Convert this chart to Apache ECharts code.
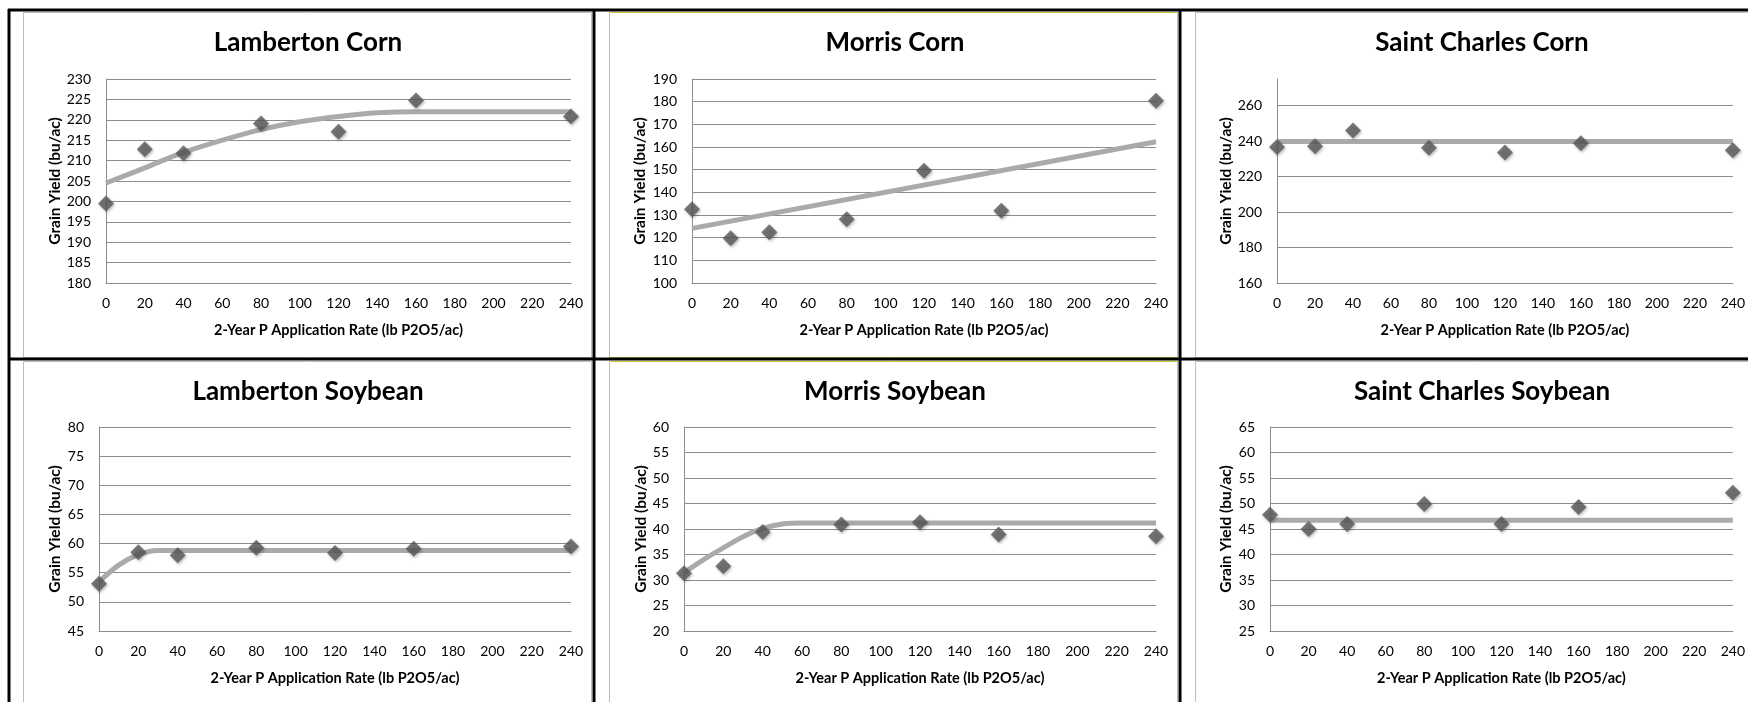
<!DOCTYPE html>
<html>
<head>
<meta charset="utf-8">
<script src="https://cdn.jsdelivr.net/npm/echarts@6/dist/echarts.min.js"></script>
<style>
  html, body { margin: 0; padding: 0; background: #fff; }
  #main { width: 1748px; height: 702px; }
</style>
</head>
<body>
<div id="main"></div>
<script>
// P application rates (lb P2O5/ac)
var rates = [0, 20, 40, 80, 120, 160, 240];

// grain yield (bu/ac)
var lambertonCorn = [199.5, 212.8, 211.8, 219.1, 217.1, 224.7, 220.8];
var morrisCorn = [132.5, 119.7, 122.4, 128.1, 149.5, 131.9, 180.4];
var stCharlesCorn = [236.6, 237.1, 245.9, 236.2, 233.6, 238.8, 234.8];
var lambertonSoy = [53.1, 58.5, 58.0, 59.3, 58.4, 59.1, 59.5];
var morrisSoy = [31.3, 32.7, 39.4, 40.9, 41.3, 38.9, 38.6];
var stCharlesSoy = [47.8, 45.0, 46.0, 49.9, 46.0, 49.3, 52.1];

// fitted response curves
var lambertonCornFitX = [0, 20, 40, 60, 80, 100, 120, 140, 160, 200, 240];
var lambertonCornFitY = [204.5, 208.2, 212.0, 215.0, 217.6, 219.5, 220.8, 221.7, 222.0, 222.0, 222.0];
var morrisCornFitX = [0, 240];
var morrisCornFitY = [124.1, 162.3];
var stCharlesCornFitX = [0, 240];
var stCharlesCornFitY = [239.8, 239.8];
var lambertonSoyFitX = [0, 10, 20, 30, 40, 240];
var lambertonSoyFitY = [53.4, 56.3, 58.1, 58.8, 58.8, 58.8];
var morrisSoyFitX = [0, 10, 20, 30, 40, 50, 60, 240];
var morrisSoyFitY = [31.4, 34.0, 36.3, 38.5, 40.1, 41.0, 41.2, 41.2];
var stCharlesSoyFitX = [0, 240];
var stCharlesSoyFitY = [46.7, 46.7];

// y axis ranges
var yMin = [180, 100, 160, 45, 20, 25];
var yMax = [230, 190, 275, 80, 60, 65];
var yStep = [5, 10, 20, 5, 5, 5];

var titles = ['Lamberton Corn', 'Morris Corn', 'Saint Charles Corn',
              'Lamberton Soybean', 'Morris Soybean', 'Saint Charles Soybean'];

var FONT = 'Lato, "Liberation Sans", sans-serif';
var GRID_COL = '#8c8c8c';

function pairs(xs, ys) {
    return xs.map(function (x, i) { return [x, ys[i]]; });
}

var points = [lambertonCorn, morrisCorn, stCharlesCorn, lambertonSoy, morrisSoy, stCharlesSoy];
var fits = [
    pairs(lambertonCornFitX, lambertonCornFitY),
    pairs(morrisCornFitX, morrisCornFitY),
    pairs(stCharlesCornFitX, stCharlesCornFitY),
    pairs(lambertonSoyFitX, lambertonSoyFitY),
    pairs(morrisSoyFitX, morrisSoyFitY),
    pairs(stCharlesSoyFitX, stCharlesSoyFitY)
];

// layout of each panel in pixels
var grids = [
    {left: 106, top: 79, width: 465, height: 204},
    {left: 692, top: 79, width: 464, height: 204},
    {left: 1277, top: 79, width: 465, height: 204},
    {left: 99, top: 427, width: 472, height: 204},
    {left: 684, top: 427, width: 472, height: 204},
    {left: 1270, top: 427, width: 471, height: 204}
];
var titleX = [308, 895, 1482, 308, 895, 1482];
var titleY = [30, 30, 30, 379, 379, 379];
var yNameGap = [43, 44, 43, 36, 35, 36];

var option = {
    animation: false,
    backgroundColor: '#fff',
    title: [],
    grid: [],
    xAxis: [],
    yAxis: [],
    series: [],
    graphic: []
};

for (var i = 0; i < 6; i++) {
    option.title.push({
        text: titles[i],
        left: titleX[i],
        top: titleY[i],
        textAlign: 'center',
        padding: 0,
        textStyle: {fontFamily: FONT, fontSize: 26, fontWeight: 'bold', color: '#000'}
    });
    option.grid.push(grids[i]);
    option.xAxis.push({
        type: 'value',
        gridIndex: i,
        min: 0,
        max: 240,
        interval: 20,
        name: '2-Year P Application Rate (lb P2O5/ac)',
        nameLocation: 'middle',
        nameGap: 40,
        nameTextStyle: {fontFamily: FONT, fontSize: 14.5, fontWeight: 'bold', color: '#000'},
        axisLine: {show: true, lineStyle: {color: GRID_COL, width: 1}},
        axisTick: {show: false},
        splitLine: {show: false},
        axisLabel: {fontFamily: FONT, fontSize: 14, color: '#000', margin: 13}
    });
    var nTicks = Math.floor((yMax[i] - yMin[i]) / yStep[i]) + 1;
    var lineColors = [];
    for (var k = 0; k < nTicks; k++) lineColors.push(GRID_COL);
    // top edge of Saint Charles Corn has no gridline
    if ((yMax[i] - yMin[i]) % yStep[i] !== 0) lineColors.push('rgba(0,0,0,0)');
    option.yAxis.push({
        type: 'value',
        gridIndex: i,
        min: yMin[i],
        max: yMax[i],
        interval: yStep[i],
        name: 'Grain Yield (bu/ac)',
        nameLocation: 'middle',
        nameGap: yNameGap[i],
        nameTextStyle: {fontFamily: FONT, fontSize: 15.5, fontWeight: 'bold', color: '#000'},
        axisLine: {show: true, lineStyle: {color: GRID_COL, width: 1}},
        axisTick: {show: false},
        splitLine: {show: true, lineStyle: {color: lineColors, width: 1}},
        axisLabel: {
            fontFamily: FONT, fontSize: 14, color: '#000', margin: 15,
            showMaxLabel: (yMax[i] - yMin[i]) % yStep[i] === 0
        }
    });
    option.series.push({
        type: 'line',
        xAxisIndex: i,
        yAxisIndex: i,
        data: fits[i],
        smooth: 0.4,
        showSymbol: false,
        lineStyle: {color: '#aaaaaa', width: 5},
        z: 2
    });
    option.series.push({
        type: 'scatter',
        xAxisIndex: i,
        yAxisIndex: i,
        data: pairs(rates, points[i]),
        symbol: 'diamond',
        symbolSize: [16, 16],
        itemStyle: {
            color: '#575757',
            shadowBlur: 3,
            shadowColor: 'rgba(0,0,0,0.35)',
            shadowOffsetX: 1,
            shadowOffsetY: 1.5
        },
        z: 3
    });
}

// chart frames (light) and the surrounding table lines (black)
var frames = [
    {x: 23, y: 12, w: 568, h: 345, c: '#bdbdbd'},
    {x: 609, y: 12, w: 568, h: 345, c: '#c9c93a'},
    {x: 1195, y: 12, w: 600, h: 345, c: '#bdbdbd'},
    {x: 23, y: 361, w: 568, h: 400, c: '#bdbdbd'},
    {x: 609, y: 361, w: 568, h: 400, c: '#c9c93a'},
    {x: 1195, y: 361, w: 600, h: 400, c: '#bdbdbd'}
];
frames.forEach(function (f) {
    option.graphic.push({
        type: 'rect',
        shape: {x: f.x + 0.5, y: f.y + 0.5, width: f.w, height: f.h},
        style: {fill: null, stroke: f.c, lineWidth: 1},
        silent: true,
        z: 0
    });
});
var tableLines = [
    [9, 9, 9, 702],
    [8, 10, 1748, 10],
    [594, 10, 594, 702],
    [1180, 10, 1180, 702],
    [8, 359, 1748, 359]
];
tableLines.forEach(function (l) {
    option.graphic.push({
        type: 'line',
        shape: {x1: l[0], y1: l[1], x2: l[2], y2: l[3]},
        style: {stroke: '#000', lineWidth: 3},
        silent: true,
        z: 10
    });
});

var chart = echarts.init(document.getElementById('main'));
chart.setOption(option);
</script>
</body>
</html>
